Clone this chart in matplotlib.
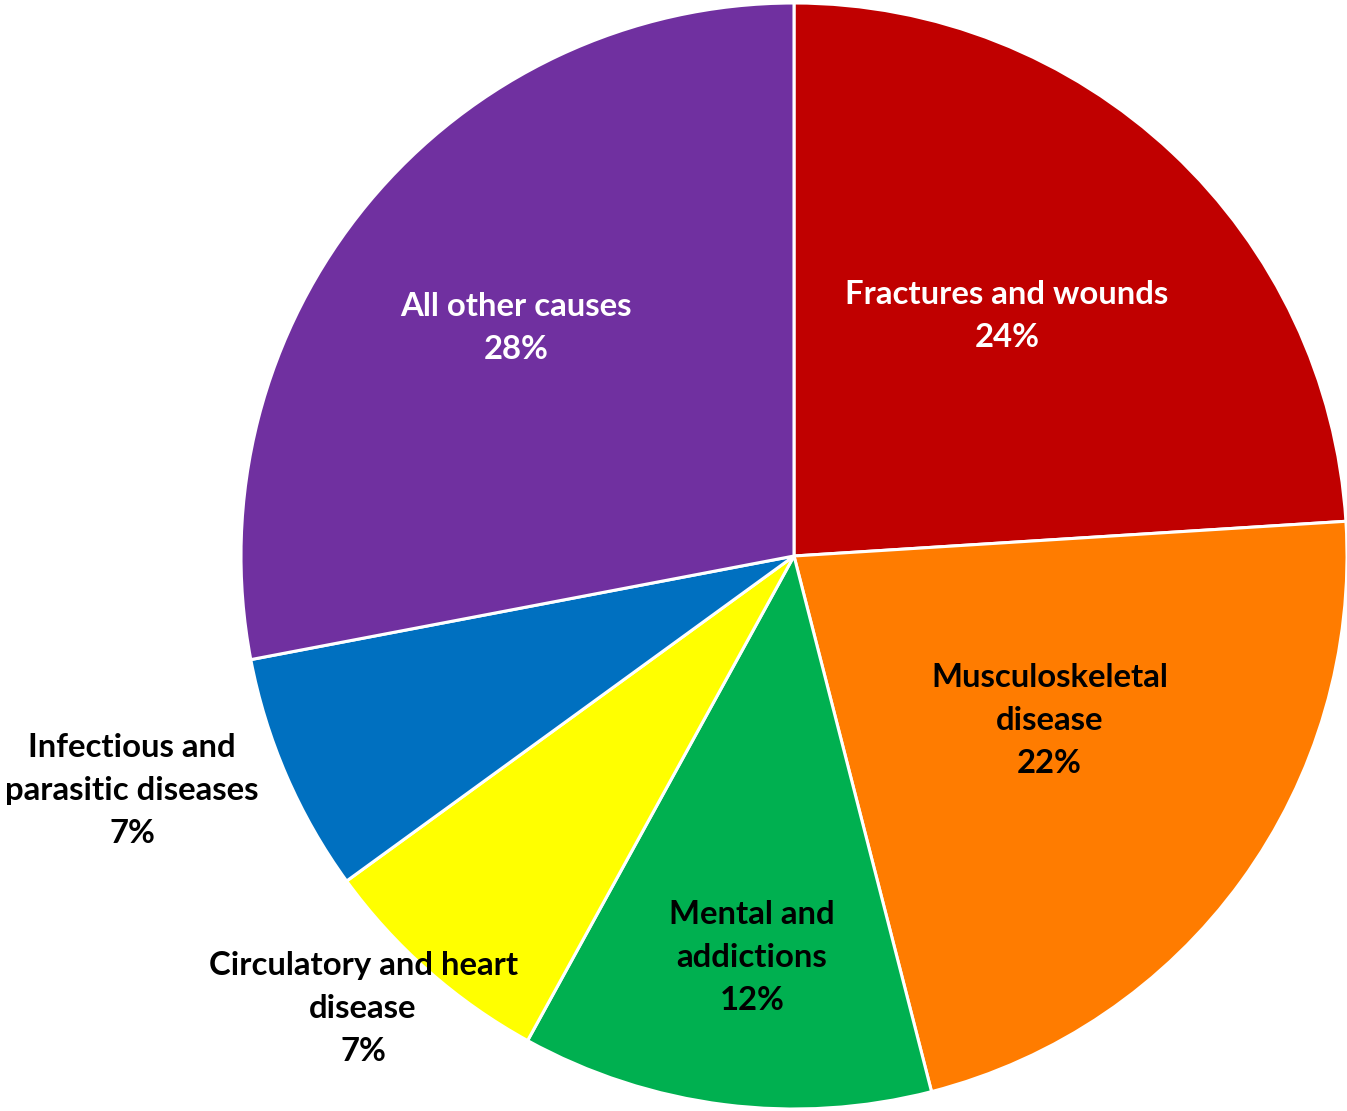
import matplotlib
matplotlib.use("Agg")
import matplotlib.pyplot as plt
import numpy as np

# causes, clockwise from 12 o'clock
causes = ["Fractures and wounds", "Musculoskeletal\ndisease", "Mental and\naddictions",
          "Circulatory and heart\ndisease", "Infectious and\nparasitic diseases", "All other causes"]
shares = [24, 22, 12, 7, 7, 28]
colors = ["#C00000", "#FF7C00", "#00B050", "#FFFF00", "#0070C0", "#7030A0"]
text_colors = ["white", "black", "black", "black", "black", "white"]
# label placement: distance from centre (in radii) and angle nudge from wedge middle (deg)
label_dist = [0.58, 0.55, 0.73, 1.13, 1.27, 0.65]
label_nudge = [1.6, 3.2, 1.2, -2.2, -3.9, 0.2]

W, H = 1347, 1111
fig = plt.figure(figsize=(W / 100, H / 100), dpi=100)
ax = fig.add_axes([0, 0, 1, 1])

cx, cy, r = 794, H - 556, 553
wedges, _ = ax.pie(shares, colors=colors, startangle=90, counterclock=False,
                   center=(cx, cy), radius=r, frame=True,
                   wedgeprops=dict(edgecolor="white", linewidth=2.2))
ax.set_xlim(0, W)
ax.set_ylim(0, H)
ax.set_aspect("equal")
ax.axis("off")

for w, name, s, tc, d, nd in zip(wedges, causes, shares, text_colors, label_dist, label_nudge):
    ang = np.deg2rad((w.theta1 + w.theta2) / 2 + nd)
    x = cx + d * r * np.cos(ang)
    y = cy + d * r * np.sin(ang)
    ax.text(x, y, f"{name}\n{s}%", ha="center", va="center", color=tc,
            fontsize=23.7, fontweight="bold", family="Lato", linespacing=1.58)

fig.savefig("out.png", dpi=100)
